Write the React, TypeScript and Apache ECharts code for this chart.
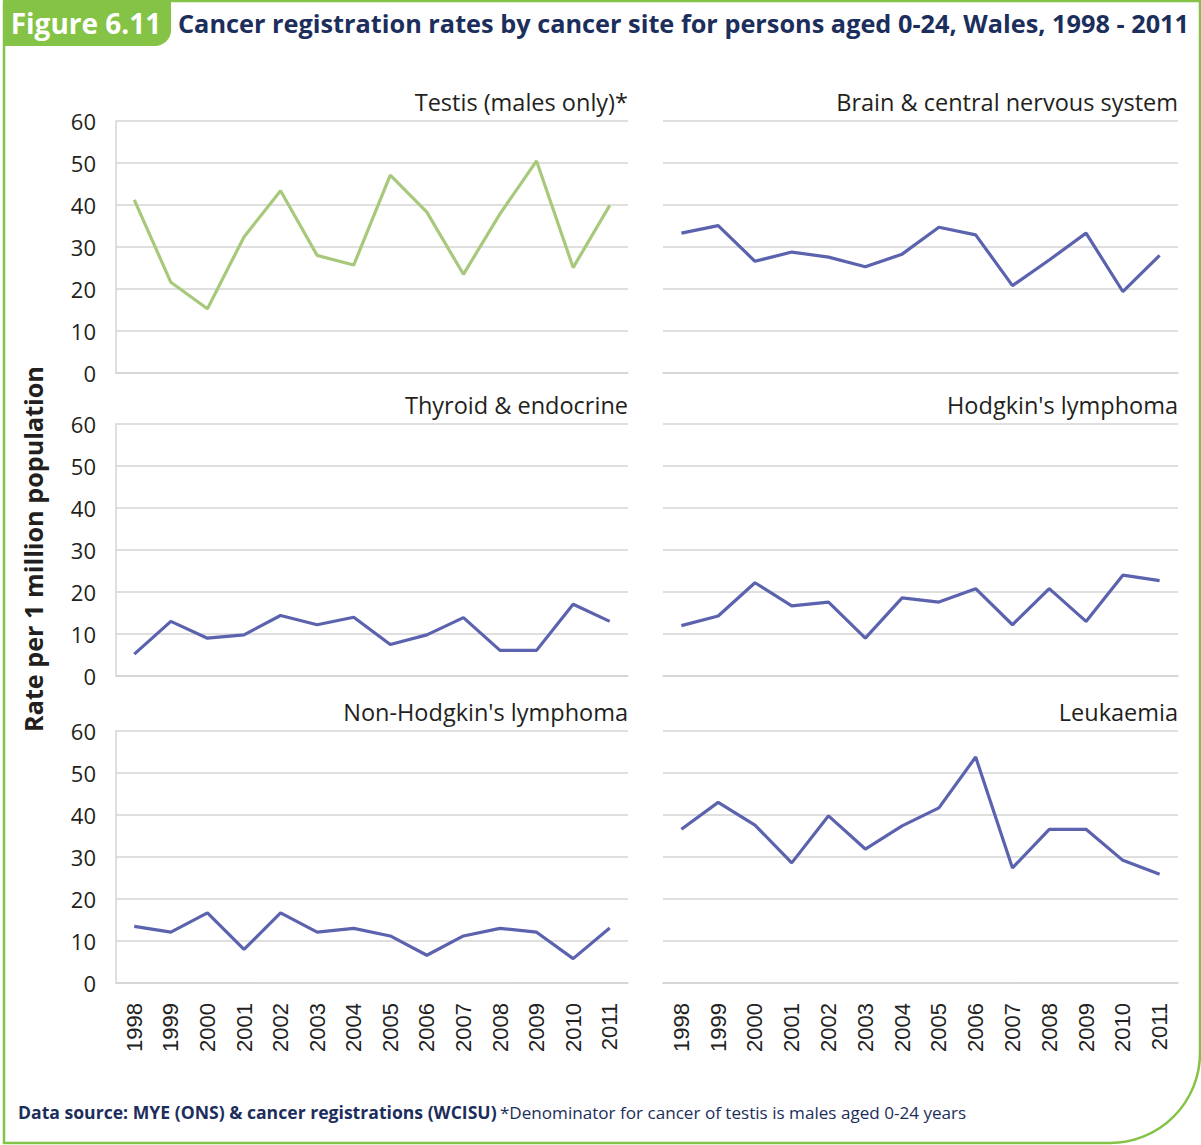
import React, { useEffect, useRef } from "react";
import * as echarts from "echarts";

const years = ["1998", "1999", "2000", "2001", "2002", "2003", "2004", "2005", "2006", "2007", "2008", "2009", "2010", "2011"];
const yTicks = [0, 10, 20, 30, 40, 50, 60];

const testis = [41.2, 21.6, 15.3, 32.4, 43.4, 28.0, 25.7, 47.1, 38.3, 23.5, 37.9, 50.5, 25.1, 39.9];
const brain = [33.3, 35.1, 26.6, 28.8, 27.6, 25.3, 28.3, 34.7, 32.9, 20.8, 26.9, 33.3, 19.4, 28.0];
const thyroid = [5.2, 13.0, 9.0, 9.8, 14.4, 12.2, 14.0, 7.5, 9.8, 13.9, 6.1, 6.1, 17.1, 13.0];
const hodgkin = [12.0, 14.3, 22.2, 16.7, 17.6, 9.0, 18.6, 17.6, 20.8, 12.2, 20.8, 13.0, 24.0, 22.7];
const nonHodgkin = [13.5, 12.1, 16.7, 8.0, 16.7, 12.1, 13.0, 11.2, 6.6, 11.2, 13.0, 12.1, 5.8, 13.1];
const leukaemia = [36.6, 43.0, 37.6, 28.6, 39.8, 31.9, 37.4, 41.7, 53.8, 27.4, 36.6, 36.6, 29.2, 25.9];

const panelTitles = [
  "Testis (males only)*",
  "Brain & central nervous system",
  "Thyroid & endocrine",
  "Hodgkin's lymphoma",
  "Non-Hodgkin's lymphoma",
  "Leukaemia",
];
const panelData = [testis, brain, thyroid, hodgkin, nonHodgkin, leukaemia];
const panelColors = ["#a8c97c", "#5b62ae", "#5b62ae", "#5b62ae", "#5b62ae", "#5b62ae"];

const figureLabel = "Figure 6.11";
const figureTitle = "Cancer registration rates by cancer site for persons aged 0-24, Wales, 1998 - 2011";
const yAxisName = "Rate per 1 million population";
const sourceBold = "Data source: MYE (ONS) & cancer registrations (WCISU)";
const sourceNote = "*Denominator for cancer of testis is males aged 0-24 years";

const FONT = "'Open Sans', 'Noto Sans', sans-serif";
const GREEN = "#84c346";
const NAVY = "#1c2e5c";
const GRID_COLOR = "#d4d4d4";

export default function App() {
  const ref = useRef<HTMLDivElement>(null);

  useEffect(() => {
    if (!ref.current) return;
    const chart = echarts.init(ref.current, undefined, { renderer: "svg" });

    const colLeft = [116, 663];
    const colWidth = [512, 515];
    const rowTop = [121, 424, 731];
    const rowHeight = 252;

    const grids: any[] = [];
    const xAxes: any[] = [];
    const yAxes: any[] = [];
    const series: any[] = [];
    const graphics: any[] = [];

    for (let i = 0; i < 6; i++) {
      const col = i % 2;
      const row = Math.floor(i / 2);
      grids.push({
        left: colLeft[col],
        top: rowTop[row],
        width: colWidth[col],
        height: rowHeight,
        containLabel: false,
      });
      xAxes.push({
        type: "category",
        gridIndex: i,
        data: years,
        boundaryGap: true,
        axisTick: { show: false },
        axisLine: { show: true, lineStyle: { color: GRID_COLOR, width: 1.5 } },
        axisLabel: {
          show: row === 2,
          rotate: 90,
          interval: 0,
          margin: 20,
          fontSize: 22,
          color: "#222",
          fontFamily: "'Liberation Sans', Arial, sans-serif",
        },
        splitLine: { show: false },
      });
      yAxes.push({
        type: "value",
        gridIndex: i,
        min: yTicks[0],
        max: yTicks[yTicks.length - 1],
        interval: 10,
        axisTick: { show: false },
        axisLine: { show: col === 0, lineStyle: { color: GRID_COLOR, width: 1.5 } },
        axisLabel: {
          show: col === 0,
          margin: 20,
          fontSize: 22,
          color: "#231f20",
          fontFamily: FONT,
        },
        splitLine: { show: true, lineStyle: { color: GRID_COLOR, width: 1.5 } },
      });
      series.push({
        type: "line",
        name: panelTitles[i],
        xAxisIndex: i,
        yAxisIndex: i,
        data: panelData[i],
        symbol: "none",
        lineStyle: { color: panelColors[i], width: 3.2 },
        itemStyle: { color: panelColors[i] },
      });
      graphics.push({
        type: "text",
        x: colLeft[col] + colWidth[col],
        y: rowTop[row] - 19,
        style: {
          text: panelTitles[i],
          align: "right",
          verticalAlign: "middle",
          fontSize: 23.5,
          fontFamily: FONT,
          fill: "#231f20",
        },
      });
    }

    // frame
    graphics.push({
      type: "rect",
      shape: { x: 4, y: 1, width: 1196, height: 1142, r: [0, 0, 90, 0] },
      style: { fill: "none", stroke: GREEN, lineWidth: 2.5 },
      silent: true,
    });
    // tab
    graphics.push({
      type: "rect",
      shape: { x: 3, y: 0, width: 168, height: 46, r: [0, 0, 16, 0] },
      style: { fill: GREEN },
    });
    graphics.push({
      type: "text",
      x: 86,
      y: 23,
      style: {
        text: figureLabel,
        align: "center",
        verticalAlign: "middle",
        fontSize: 28,
        fontWeight: "bold",
        fontFamily: FONT,
        fill: "#ffffff",
      },
    });
    graphics.push({
      type: "text",
      x: 178,
      y: 23,
      style: {
        text: figureTitle,
        align: "left",
        verticalAlign: "middle",
        fontSize: 25.3,
        fontWeight: "bold",
        fontFamily: FONT,
        fill: NAVY,
      },
    });
    graphics.push({
      type: "text",
      x: 33,
      y: 549,
      rotation: Math.PI / 2,
      style: {
        text: yAxisName,
        align: "center",
        verticalAlign: "middle",
        fontSize: 25.2,
        fontWeight: "bold",
        fontFamily: FONT,
        fill: "#231f20",
      },
    });
    graphics.push({
      type: "text",
      x: 18,
      y: 1112,
      style: {
        text: "{b|" + sourceBold + "} {r|" + sourceNote + "}",
        align: "left",
        verticalAlign: "middle",
        rich: {
          b: { fontSize: 17.6, fontWeight: "bold", fontFamily: FONT, fill: NAVY, color: NAVY },
          r: { fontSize: 17.1, fontFamily: FONT, fill: NAVY, color: "#2c3b66" },
        },
      },
    });

    chart.setOption({
      animation: false,
      backgroundColor: "#ffffff",
      grid: grids,
      xAxis: xAxes,
      yAxis: yAxes,
      series,
      graphic: graphics,
    });

    return () => chart.dispose();
  }, []);

  return (
    <div
      ref={ref}
      style={{ position: "absolute", left: 0, top: 0, width: 1201, height: 1145 }}
    />
  );
}
